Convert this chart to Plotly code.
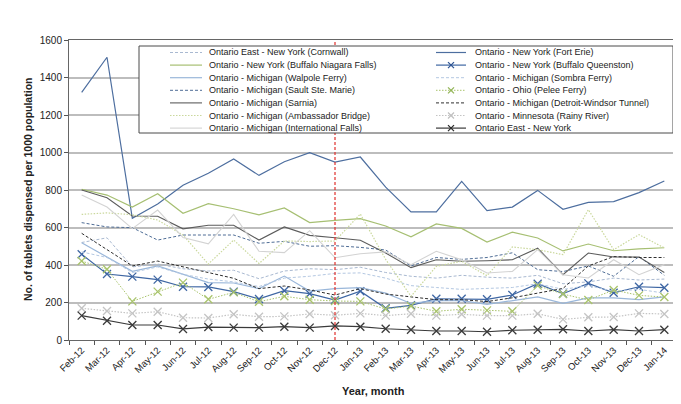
import plotly.graph_objects as go

# ---------------- data ----------------
months = ["Feb-12", "Mar-12", "Apr-12", "May-12", "Jun-12", "Jul-12", "Aug-12", "Sep-12",
          "Oct-12", "Nov-12", "Dec-12", "Jan-13", "Feb-13", "Mar-13", "Apr-13", "May-13",
          "Jun-13", "Jul-13", "Aug-13", "Sep-13", "Oct-13", "Nov-13", "Dec-13", "Jan-14"]

cornwall = [520, 545, 390, 405, 380, 368, 372, 327, 368, 380, 375, 388,
            360, 340, 330, 345, 335, 330, 345, 300, 310, 330, 320, 325]
fort_erie = [1321, 1508, 649, 725, 825, 889, 965, 878, 951, 999, 949, 976,
             815, 683, 683, 846, 690, 709, 798, 697, 734, 738, 786, 848]
niagara = [804, 773, 709, 780, 676, 727, 700, 667, 704, 626, 638, 647,
           608, 550, 619, 595, 522, 575, 544, 475, 512, 476, 486, 492]
queenston = [457, 352, 338, 322, 284, 283, 258, 219, 263, 247, 213, 260,
             169, 185, 220, 220, 217, 240, 300, 247, 302, 252, 284, 279]
walpole = [519, 443, 366, 395, 350, 306, 304, 274, 341, 261, 274, 279,
           250, 195, 210, 210, 190, 210, 230, 195, 225, 225, 215, 230]
sombra = [470, 440, 360, 390, 350, 325, 310, 285, 330, 340, 355, 358,
          330, 290, 280, 270, 275, 280, 300, 270, 290, 260, 270, 250]
sault = [626, 603, 599, 533, 560, 560, 560, 516, 526, 500, 503, 494,
         480, 395, 440, 430, 440, 465, 375, 365, 395, 340, 445, 345]
pelee = [421, 377, 206, 258, 306, 217, 254, 204, 233, 215, 208, 206,
         165, 181, 153, 164, 158, 153, 290, 245, 213, 267, 238, 229]
sarnia = [800, 759, 661, 660, 593, 612, 612, 533, 603, 558, 545, 532,
          464, 386, 428, 420, 423, 428, 490, 348, 464, 443, 443, 360]
detroit = [569, 484, 395, 421, 389, 359, 329, 274, 288, 267, 240, 274,
           245, 230, 215, 215, 205, 225, 250, 275, 395, 445, 440, 440]
ambassador = [670, 678, 668, 640, 560, 405, 533, 408, 528, 525, 528, 672,
              430, 233, 393, 420, 343, 496, 482, 455, 695, 482, 562, 491]
rainy = [169, 155, 142, 151, 119, 117, 137, 124, 126, 139, 132, 142,
         130, 140, 130, 137, 130, 130, 140, 110, 121, 123, 142, 139]
intl_falls = [773, 709, 594, 693, 546, 513, 670, 473, 466, 583, 439, 460,
              470, 402, 473, 428, 357, 366, 482, 348, 331, 428, 348, 402]
east_ny = [130, 103, 80, 80, 59, 69, 66, 66, 71, 66, 75, 71,
           60, 55, 48, 48, 44, 52, 55, 57, 48, 55, 48, 55]

y_ticks = [0, 200, 400, 600, 800, 1000, 1200, 1400, 1600]
marker_month = "Dec-12"

# ---------------- styles ----------------
# (name, values, color, dash, width, has_marker, marker_color)
series = [
    ("Ontario East - New York (Cornwall)", cornwall, "#a9b9d1", "3px,2px", 1.0, False, None),
    ("Ontario - New York (Fort Erie)", fort_erie, "#4d6e9f", "solid", 1.2, False, None),
    ("Ontario - New York (Buffalo Niagara Falls)", niagara, "#a6bf72", "solid", 1.2, False, None),
    ("Ontario - New York (Buffalo Queenston)", queenston, "#3e66a3", "solid", 1.2, True, "#2d5392"),
    ("Ontario - Michigan (Walpole Ferry)", walpole, "#9ab7da", "solid", 1.2, False, None),
    ("Ontario - Michigan (Sombra Ferry)", sombra, "#b4c8e2", "3px,2px", 1.0, False, None),
    ("Ontario - Michigan (Sault Ste. Marie)", sault, "#4f6d96", "3px,2px", 1.0, False, None),
    ("Ontario - Ohio (Pelee Ferry)", pelee, "#a9c46c", "1.5px,1.5px", 1.0, True, "#92b456"),
    ("Ontario - Michigan (Sarnia)", sarnia, "#5c5c5c", "solid", 1.1, False, None),
    ("Ontario - Michigan (Detroit-Windsor Tunnel)", detroit, "#2e2e2e", "3px,2px", 1.0, False, None),
    ("Ontario - Michigan (Ambassador Bridge)", ambassador, "#cad89c", "1.5px,1.5px", 1.2, False, None),
    ("Ontario - Minnesota (Rainy River)", rainy, "#c4c4c4", "1.5px,1.5px", 1.2, True, "#c0c0c0"),
    ("Ontario - Michigan (International Falls)", intl_falls, "#d3d3d3", "solid", 1.1, False, None),
    ("Ontario East - New York", east_ny, "#3a3a3a", "solid", 1.2, True, "#2a2a2a"),
]

W, H = 681, 404
L, R, T, B = 61, 12, 32, 72
PW, PH = W - L - R, H - T - B
FONT = "Liberation Sans, Arial, sans-serif"


def px(x):
    return (x - L) / PW


def py(y):
    return (H - B - y) / PH


fig = go.Figure()
for name, vals, color, dash, width, has_m, mcol in series:
    fig.add_trace(go.Scatter(
        x=months, y=vals, name=name,
        mode="lines+markers" if has_m else "lines",
        line=dict(color=color, dash=dash, width=width),
        marker=dict(symbol="x-thin-open", size=8,
                    line=dict(color=mcol or color, width=1.3)) if has_m else None,
        showlegend=False,
    ))

shapes = []
# red dashed reference line
shapes.append(dict(type="line", xref="x", yref="y",
                   x0=months.index(marker_month), x1=months.index(marker_month),
                   y0=0, y1=1600, line=dict(color="#e0302c", width=1.2, dash="3px,2px"),
                   layer="above"))
# legend box
box = (131, 38, 665, 125)
shapes.append(dict(type="rect", xref="paper", yref="paper",
                   x0=px(box[0]), x1=px(box[2]), y0=py(box[3]), y1=py(box[1]),
                   fillcolor="white", line=dict(color="#4a4a4a", width=1), layer="above"))

annotations = []
cols = [(162, 194, 199), (428, 458, 465)]
row0, pitch = 44.5, 12.6
for i, (name, vals, color, dash, width, has_m, mcol) in enumerate(series):
    c, r = i % 2, i // 2
    x0, x1, xt = cols[c]
    yy = row0 + r * pitch
    shapes.append(dict(type="line", xref="paper", yref="paper",
                       x0=px(x0), x1=px(x1), y0=py(yy), y1=py(yy),
                       line=dict(color=color, dash=dash, width=width), layer="above"))
    if has_m:
        xm = (x0 + x1) / 2
        for d in (1, -1):
            shapes.append(dict(type="line", xref="paper", yref="paper",
                               x0=px(xm - 3), x1=px(xm + 3), y0=py(yy - 3 * d), y1=py(yy + 3 * d),
                               line=dict(color=mcol, width=1.2), layer="above"))
    annotations.append(dict(x=px(xt), y=py(yy), xref="paper", yref="paper",
                            text=name, showarrow=False, xanchor="left", yanchor="middle",
                            font=dict(family=FONT, size=9, color="#222")))

# axis titles
annotations.append(dict(x=px(20), y=py(182), xref="paper", yref="paper",
                        text="<b>No. of tablets dispensed per 1000 population</b>",
                        textangle=-90, showarrow=False, xanchor="center", yanchor="middle",
                        font=dict(family=FONT, size=10.5, color="#222")))
annotations.append(dict(x=px(365), y=py(383), xref="paper", yref="paper",
                        text="<b>Year, month</b>", showarrow=False,
                        xanchor="center", yanchor="middle",
                        font=dict(family=FONT, size=11, color="#222")))

fig.update_layout(
    width=W, height=H,
    margin=dict(l=L, r=R, t=T, b=B, pad=0),
    paper_bgcolor="white", plot_bgcolor="white",
    font=dict(family=FONT, color="#222"),
    shapes=shapes, annotations=annotations,
    showlegend=False,
)
fig.update_xaxes(
    type="category", categoryorder="array", categoryarray=months,
    range=[-0.5, len(months) - 0.5],
    tickangle=-45, tickfont=dict(size=9.5, family=FONT, color="#222"),
    ticks="outside", ticklen=4, tickcolor="#555", tickson="boundaries",
    showline=True, linecolor="#666", linewidth=1, mirror=True,
    showgrid=False, zeroline=False,
)
fig.update_yaxes(
    range=[0, 1600], tickvals=y_ticks,
    tickfont=dict(size=10, family=FONT, color="#222"),
    ticks="outside", ticklen=4, tickcolor="#555",
    showline=True, linecolor="#666", linewidth=1, mirror=True,
    showgrid=True, gridcolor="#bdbdbd", gridwidth=1.5, zeroline=False,
)

fig.write_html("out.html")
